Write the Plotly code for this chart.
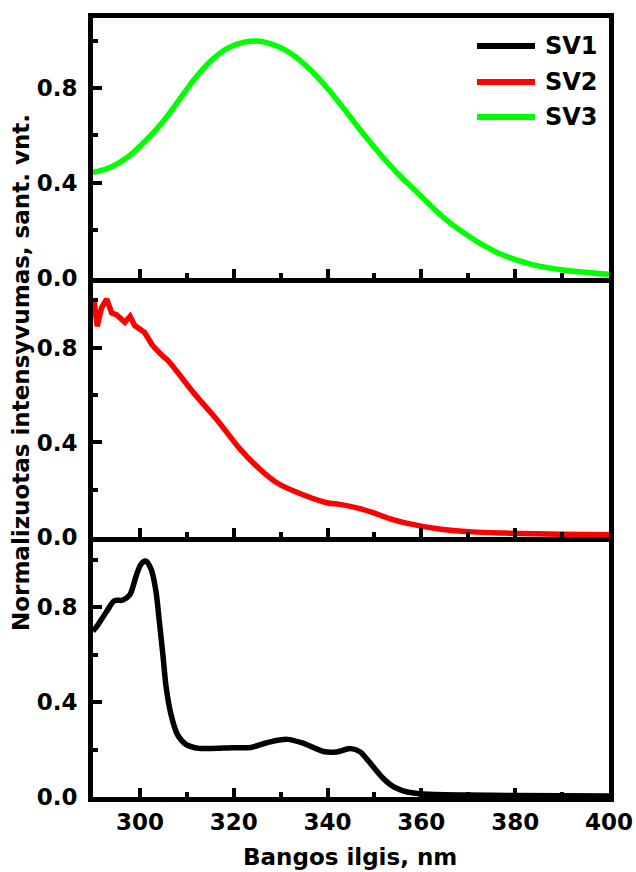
import plotly.graph_objects as go
from plotly.subplots import make_subplots

# SV3 (top panel)
sv3_nm = [290.0, 290.8, 294.0, 297.5, 301.0, 304.5, 308.1, 311.6, 315.1, 318.7,
          322.2, 325.0, 329.2, 332.8, 336.3, 339.8, 343.3, 346.9, 351.0, 355.3,
          358.9, 362.4, 365.9, 369.5, 373.0, 376.5, 383.5, 390.6, 400.0]
sv3_val = [0.445, 0.447, 0.468, 0.51, 0.573, 0.648, 0.742, 0.837, 0.914, 0.968,
           0.993, 0.998, 0.977, 0.937, 0.877, 0.803, 0.717, 0.625, 0.526, 0.432,
           0.364, 0.296, 0.234, 0.183, 0.139, 0.103, 0.056, 0.031, 0.014]

# SV2 (middle panel)
sv2_nm = [290.2, 290.9, 291.8, 292.9, 294.0, 295.0, 296.8, 297.9, 298.9, 301.0,
          302.8, 304.9, 306.0, 311.6, 316.5, 321.5, 325.7, 329.2, 332.8, 339.8,
          342.6, 346.9, 349.7, 353.2, 356.8, 363.8, 370.8, 377.9, 390.0, 400.0]
sv2_val = [1.0, 0.89, 0.967, 1.005, 0.946, 0.939, 0.907, 0.932, 0.893, 0.864,
           0.806, 0.764, 0.745, 0.606, 0.494, 0.369, 0.285, 0.23, 0.195, 0.146,
           0.139, 0.121, 0.104, 0.079, 0.06, 0.035, 0.023, 0.018, 0.013, 0.011]

# SV1 (bottom panel)
sv1_nm = [290.0, 290.7, 292.8, 294.6, 296.3, 297.8, 299.2, 300.2, 301.2, 302.4,
          303.4, 304.1, 304.9, 305.6, 306.6, 308.0, 309.8, 312.6, 315.1, 320.1,
          323.6, 327.1, 331.4, 334.9, 339.1, 341.9, 344.9, 347.0, 348.3, 350.0,
          351.8, 353.2, 354.6, 356.8, 359.6, 370.0, 380.0, 400.0]
sv1_val = [0.70, 0.716, 0.779, 0.828, 0.830, 0.851, 0.932, 0.981, 0.995, 0.96,
           0.870, 0.748, 0.600, 0.462, 0.35, 0.263, 0.222, 0.205, 0.205, 0.208,
           0.209, 0.229, 0.243, 0.226, 0.192, 0.190, 0.204, 0.190, 0.162, 0.121,
           0.080, 0.055, 0.038, 0.022, 0.014, 0.008, 0.006, 0.004]

series_names = ["SV1", "SV2", "SV3"]
series_colors = ["#000000", "#ff0000", "#00ff00"]

x_ticks = [300, 320, 340, 360, 380, 400]
x_minor = [290, 310, 330, 350, 370, 390]
y_ticks = [0.0, 0.4, 0.8]
y_minor = [0.2, 0.6, 1.0]

W, H = 636, 872
ML, MR, MT, MB = 93, 27, 18, 75
FONT = "DejaVu Sans"

fig = make_subplots(rows=3, cols=1, shared_xaxes=True, vertical_spacing=0)

# SV2 keeps its noisy short-wavelength part straight, smooth beyond it
split = 10
sv2_parts = [(sv2_nm[:split + 1], sv2_val[:split + 1], "linear"),
             (sv2_nm[split:], sv2_val[split:], "spline")]

panels = [(sv3_nm, sv3_val, 2, "spline"), (None, None, 1, None),
          (sv1_nm, sv1_val, 0, "spline")]
for row, (xs, ys, idx, shape) in enumerate(panels, start=1):
    if idx == 1:
        for pxs, pys, pshape in sv2_parts:
            fig.add_trace(go.Scatter(x=pxs, y=pys, mode="lines",
                                     name=series_names[idx],
                                     line=dict(color=series_colors[idx],
                                               width=5.5, shape=pshape,
                                               smoothing=0.9),
                                     showlegend=False),
                          row=row, col=1)
        continue
    fig.add_trace(go.Scatter(x=xs, y=ys, mode="lines", name=series_names[idx],
                             line=dict(color=series_colors[idx], width=5.5,
                                       shape=shape, smoothing=0.9),
                             showlegend=False),
                  row=row, col=1)

tick_font = dict(family=FONT, size=23, color="black", weight="bold")

for row in range(1, 4):
    fig.update_xaxes(range=[290, 400], tickvals=x_ticks, ticks="inside",
                     ticklen=9, tickwidth=4, tickcolor="black",
                     minor=dict(tickvals=x_minor, ticks="inside", ticklen=5,
                                tickwidth=4, tickcolor="black"),
                     showline=True, linewidth=5, linecolor="black",
                     mirror=(row == 1), showgrid=False, zeroline=False,
                     showticklabels=(row == 3), tickfont=tick_font,
                     automargin=False, row=row, col=1)
    fig.update_yaxes(range=[0, 1.095], tickvals=y_ticks, tickformat=".1f",
                     ticks="inside", ticklen=9, tickwidth=4, tickcolor="black",
                     minor=dict(tickvals=y_minor, ticks="inside", ticklen=5,
                                tickwidth=4, tickcolor="black"),
                     showline=True, linewidth=5, linecolor="black", mirror=True,
                     showgrid=False, zeroline=False, tickfont=tick_font,
                     ticklabelstandoff=6, automargin=False,
                     row=row, col=1)

pw = W - ML - MR
ph = H - MT - MB


def px_x(p):
    return (p - ML) / pw


def px_y(p):
    return (H - MB - p) / ph


title_font = dict(family=FONT, size=23, color="black", weight="bold")

# Axis titles
fig.add_annotation(text="Bangos ilgis, nm", xref="paper", yref="paper",
                   x=px_x(350), y=px_y(857), xanchor="center", yanchor="middle",
                   showarrow=False, font=title_font)
fig.add_annotation(text="Normalizuotas intensyvumas, sant. vnt.",
                   xref="paper", yref="paper", x=px_x(21), y=px_y(373),
                   textangle=-90, showarrow=False, xanchor="center",
                   yanchor="middle", font=title_font)

# Legend
legend_rows = [46, 82, 117]
for name, color, ly in zip(series_names, series_colors, legend_rows):
    fig.add_shape(type="line", xref="paper", yref="paper",
                  x0=px_x(477), x1=px_x(535), y0=px_y(ly), y1=px_y(ly),
                  line=dict(color=color, width=6))
    fig.add_annotation(text=name, xref="paper", yref="paper",
                       x=px_x(543), y=px_y(ly), xanchor="left", yanchor="middle",
                       showarrow=False,
                       font=dict(family=FONT, size=24, color="black",
                                 weight="bold"))

fig.update_layout(template="none", width=W, height=H, autosize=False,
                  margin=dict(l=ML, r=MR, t=MT, b=MB, pad=0),
                  paper_bgcolor="white", plot_bgcolor="white",
                  showlegend=False)

fig.write_html("out.html")
